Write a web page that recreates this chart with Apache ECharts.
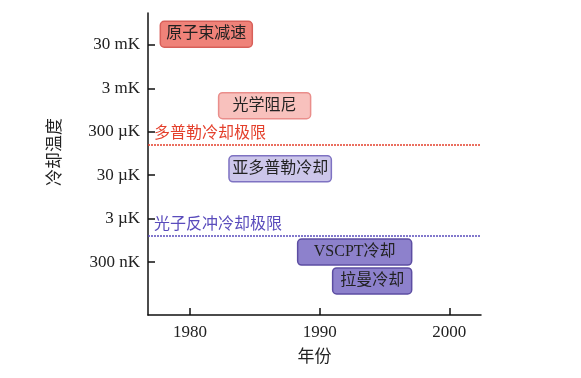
<!DOCTYPE html>
<html>
<head>
<meta charset="utf-8">
<script src="https://cdn.jsdelivr.net/npm/echarts@6/dist/echarts.min.js"></script>
<style>
  html, body { margin: 0; padding: 0; background: #fff; }
  #container { width: 581px; height: 378px; }
</style>
</head>
<body>
<div id="container"></div>
<script>
var dom = document.getElementById('container');
var myChart = echarts.init(dom, null, { renderer: 'canvas' });

// 冷却方法：名称、起止年份、温度(K)
var methods = ['原子束减速', '光学阻尼', '亚多普勒冷却', 'VSCPT冷却', '拉曼冷却'];
var startYear = [1977.7, 1982.2, 1983.0, 1988.3, 1991.0];
var endYear = [1984.8, 1989.3, 1990.9, 1997.1, 1997.1];
var tempK = [0.053, 1.2e-3, 4.2e-5, 5.1e-7, 1.1e-7];

// 极限
var limitNames = ['多普勒冷却极限', '光子反冲冷却极限'];
var limitTempK = [1.5e-4, 1.2e-6];

// 刻度
var yearTicks = [1980, 1990, 2000];
var tickTempK = [3e-7, 3e-6, 3e-5, 3e-4, 3e-3, 3e-2];
var tickLabels = ['300 nK', '3 µK', '30 µK', '300 µK', '3 mK', '30 mK'];

var fills = ['#ef8279', '#f8c1bd', '#ccc6ea', '#8d81cc', '#8d81cc'];
var borders = ['#d8605a', '#ea8e8b', '#7e72c2', '#5c4da2', '#5c4da2'];
var limitColors = ['#e4402c', '#5a4cbc'];

var serif = '"Liberation Serif", "Noto Sans CJK SC", serif';
var lg = function (t) { return Math.log10(t); };

var boxData = methods.map(function (m, i) {
    return [startYear[i], endYear[i], lg(tempK[i]), i];
});
var tickVals = tickTempK.map(lg);

option = {
    animation: false,
    grid: { left: 148, right: 100, top: 13, bottom: 63 },
    xAxis: {
        type: 'value',
        min: 1976.75,
        max: 2002.45,
        name: '年份',
        nameLocation: 'middle',
        nameGap: 34,
        nameTextStyle: { fontFamily: serif, fontSize: 17, color: '#222' },
        splitLine: { show: false },
        axisLine: { show: true, lineStyle: { color: '#111', width: 1.5 } },
        axisTick: { show: true, inside: true, length: 7, lineStyle: { color: '#111', width: 1.5 },
            customValues: yearTicks },
        axisLabel: { fontFamily: serif, fontSize: 17, color: '#222', margin: 9,
            customValues: yearTicks,
            formatter: function (v) { return String(Math.round(v)); } }
    },
    yAxis: {
        type: 'value',
        min: -7.743,
        max: -0.786,
        name: '冷却温度',
        nameLocation: 'middle',
        nameGap: 84,
        nameRotate: 90,
        nameTextStyle: { fontFamily: serif, fontSize: 17, color: '#222', padding: [0, 0, 0, 24] },
        splitLine: { show: false },
        axisLine: { show: true, lineStyle: { color: '#111', width: 1.5 } },
        axisTick: { show: true, inside: true, length: 7, lineStyle: { color: '#111', width: 1.5 },
            customValues: tickVals },
        axisLabel: {
            fontFamily: serif, fontSize: 17, color: '#222', margin: 8,
            customValues: tickVals,
            formatter: function (v) {
                var best = 0;
                tickVals.forEach(function (t, i) {
                    if (Math.abs(t - v) < Math.abs(tickVals[best] - v)) best = i;
                });
                return tickLabels[best];
            }
        }
    },
    series: [{
        type: 'custom',
        data: boxData,
        renderItem: function (params, api) {
            var p1 = api.coord([api.value(0), api.value(2)]);
            var p2 = api.coord([api.value(1), api.value(2)]);
            var idx = api.value(3);
            var h = 26;
            return {
                type: 'rect',
                shape: { x: p1[0], y: p1[1] - h / 2, width: p2[0] - p1[0], height: h, r: 4 },
                style: { fill: fills[idx], stroke: borders[idx], lineWidth: 1.5 },
                textContent: {
                    style: { text: methods[idx], fill: '#222', fontSize: 16, fontFamily: serif }
                },
                textConfig: { position: 'inside' }
            };
        },
        markLine: {
            silent: true,
            symbol: 'none',
            data: limitNames.map(function (n, i) {
                return {
                    name: n,
                    yAxis: lg(limitTempK[i]),
                    lineStyle: { color: limitColors[i], type: [2, 1], width: 1.5 },
                    label: {
                        show: true, formatter: '{b}', position: 'insideStartTop',
                        color: limitColors[i], fontFamily: serif, fontSize: 16, distance: [6, 3]
                    }
                };
            })
        }
    }]
};

myChart.setOption(option);
</script>
</body>
</html>
